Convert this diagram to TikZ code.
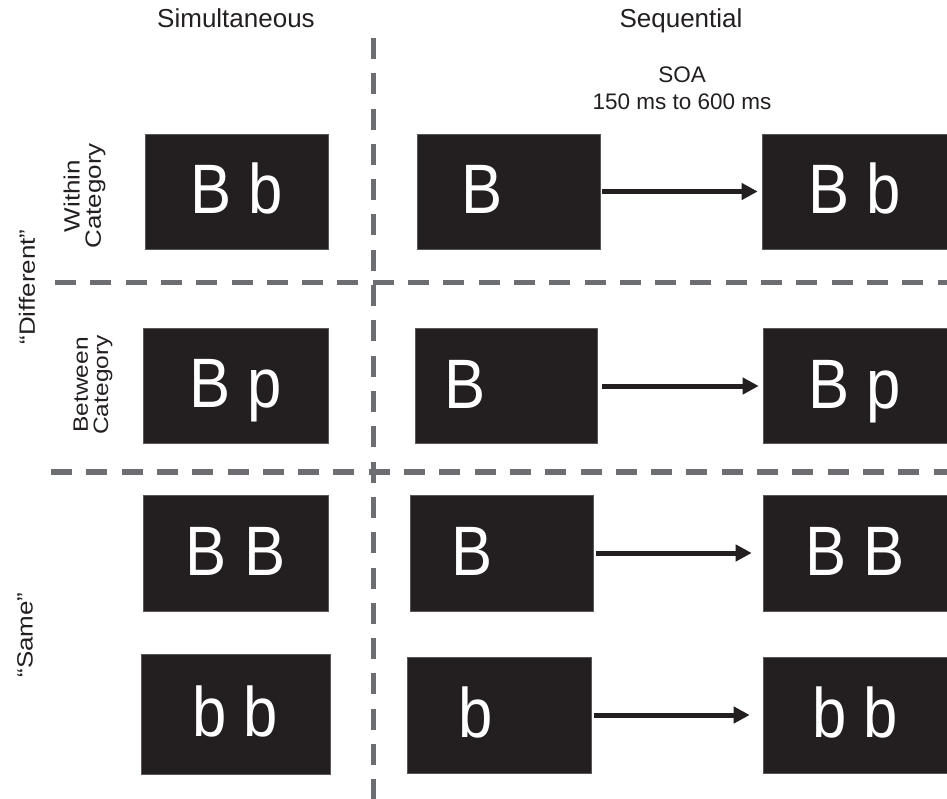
\documentclass[tikz,border=0pt]{standalone}
\usepackage{fontspec}
\setmainfont{Liberation Sans}
\newfontfamily\stimfont[FakeStretch=0.88]{Liberation Sans}
\usepackage{tikz}
\usetikzlibrary{arrows.meta,positioning}
\definecolor{panel}{RGB}{35,31,32}
\definecolor{divider}{RGB}{109,110,113}

\begin{document}
\begin{tikzpicture}[x=1pt,y=-1pt,
stim/.style={fill=panel, draw=panel!75!white, line width=0.6pt, minimum width=183pt,
    minimum height=115pt, inner sep=0pt, text=white,
    font=\stimfont\fontsize{70}{70}\selectfont, text height=50pt, text depth=6pt},
glyph/.style={text=white, font=\stimfont\fontsize{70}{70}\selectfont, text height=50pt,
    text depth=6pt, inner sep=0pt},
head/.style={font=\fontsize{26}{30}\selectfont, text=panel, anchor=base, inner sep=0pt},
soalab/.style={font=\fontsize{22.5}{27}\selectfont, text=panel, anchor=base, inner sep=0pt},
side/.style={font=\fontsize{26}{25}\selectfont, text=panel, rotate=90, yscale=0.85,
    align=center, inner sep=0pt},
divide/.style={draw=divider, line width=5.5pt, dash pattern=on 21pt off 14.3pt},
soa/.style={draw=panel, line width=5pt, -{Triangle[length=16pt,width=16pt]},
    shorten <=3pt, shorten >=4pt}]
\useasboundingbox (0,0) rectangle (947,799);

\draw[divide] (373.5,38) -- (373.5,799);
\draw[divide] (55,282.5) -- (947,282.5);
\draw[divide] (51,472) -- (947,472);

\node[head] (simhead) at (236,28) {Simultaneous};
\node[head] (seqhead) at (681,28) {Sequential};
\node[soalab] (soa) at (682,83) {SOA};
\node[soalab] (soarange) at ([yshift=-27pt]soa.base) {150 ms to 600 ms};

\node[side] (within) at (84.5,196) {Within\\Category};
\node[side, font=\fontsize{24.5}{24}\selectfont] (between) at (93,385) {Between\\Category};
\node[side] (diff) at (27,287) {“Different”};
\node[side] (same) at (25,635) {“Same”};

\node[stim] (sim1) at (236.5,191.5) {B b};
\node[stim, minimum width=185pt] (sim2) at (235.5,385.5) {B p};
\node[stim, minimum width=185pt, minimum height=116pt] (sim3) at (235.5,553) {B B};
\node[stim, minimum width=189pt, minimum height=120pt] (sim4) at (235.5,714) {b b};

\node[stim] (first1) at (508.5,191.5) {};
\node[stim, minimum width=182pt] (first2) at (506,386) {};
\node[stim, minimum height=116pt] (first3) at (501.5,553) {};
\node[stim, minimum width=184pt, minimum height=116pt] (first4) at (499,715) {};
\node[glyph] (g1) at ([xshift=-26pt]first1.center) {B};
\node[glyph] (g2) at ([xshift=-41pt]first2.center) {B};
\node[glyph] (g3) at ([xshift=-29pt]first3.center) {B};
\node[glyph] (g4) at ([xshift=-23pt]first4.center) {b};

\node[stim, minimum width=185pt] (second1) at (854.5,191.5) {B b};
\node[stim, minimum width=184pt] (second2) at (855,386) {B p};
\node[stim, minimum width=184pt, minimum height=116pt] (second3) at (855,553) {B B};
\node[stim, minimum width=184pt, minimum height=116pt] (second4) at (855,715) {b b};

\draw[soa, shorten <=2pt] (first1) -- (second1);
\draw[soa, shorten <=5pt] (first2) -- (second2);
\draw[soa, shorten >=11pt] (first3) -- (second3);
\draw[soa, shorten >=13pt] (first4) -- (second4);
\end{tikzpicture}
\end{document}
